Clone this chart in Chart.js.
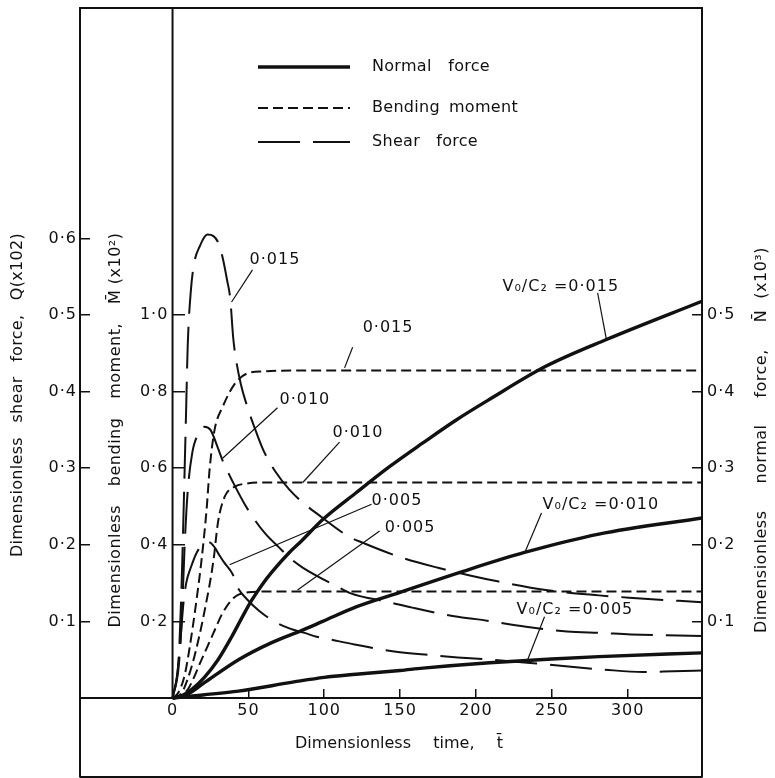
<!DOCTYPE html>
<html>
<head>
<meta charset="utf-8">
<script src="https://cdn.jsdelivr.net/npm/chart.js@4.4.1/dist/chart.umd.min.js"></script>
<style>
  html, body { margin: 0; padding: 0; background: #fff; }
  #wrap { width: 775px; height: 778px; }
</style>
</head>
<body>
<div id="wrap"><canvas id="chart" width="775" height="778"></canvas></div>
<script>
// tick labels
const timeTicks = [0, 50, 100, 150, 200, 250, 300];
const shearTicks = [0.1, 0.2, 0.3, 0.4, 0.5, 0.6];
const momentTicks = [0.2, 0.4, 0.6, 0.8, 1.0];
const normalTicks = [0.1, 0.2, 0.3, 0.4, 0.5];

// normal force N (x10^3), solid
const nT015 = [0, 5, 12.5, 21, 30, 39, 45.5, 52, 58.7, 65.3, 77, 85, 99, 121, 143, 165, 187, 209, 246, 286, 349];
const nV015 = [0, 0.002, 0.011, 0.027, 0.05, 0.08, 0.104, 0.127, 0.147, 0.164, 0.19, 0.205, 0.233, 0.268, 0.302, 0.333, 0.363, 0.39, 0.433, 0.468, 0.518];
const nT010 = [0, 10, 21, 43.5, 65, 85, 99, 121, 150, 191, 232, 281, 349];
const nV010 = [0, 0.005, 0.02, 0.05, 0.072, 0.088, 0.1, 0.119, 0.138, 0.165, 0.19, 0.214, 0.235];
const nT005 = [0, 20, 43.5, 80, 100, 121, 150, 165, 209, 250, 281, 349];
const nV005 = [0, 0.004, 0.009, 0.021, 0.027, 0.031, 0.036, 0.039, 0.046, 0.051, 0.054, 0.059];

// bending moment M (x10^2), short dashes
const mT015 = [0, 4, 8, 11.2, 15.8, 19.1, 22.4, 24.5, 27.7, 33, 41, 49, 60, 80, 349];
const mV015 = [0, 0.015, 0.06, 0.13, 0.256, 0.36, 0.49, 0.6, 0.7, 0.76, 0.82, 0.847, 0.853, 0.855, 0.855];
const mT010 = [0, 6, 10, 14.5, 21, 27, 30, 34.3, 41, 49, 60, 349];
const mV010 = [0, 0.013, 0.05, 0.11, 0.225, 0.36, 0.46, 0.525, 0.552, 0.56, 0.563, 0.563];
const mT005 = [0, 5, 10, 19, 27, 33, 41, 50, 60, 349];
const mV005 = [0, 0.006, 0.022, 0.099, 0.17, 0.222, 0.264, 0.276, 0.278, 0.278];

// shear force Q (x10^2), long dashes
const qT015 = [0, 4, 6, 8, 9, 10, 12, 14, 18, 23, 27, 30, 33, 36, 38, 40, 42, 45, 49, 55, 60, 68, 77, 86, 95, 116, 125, 150, 175, 196, 215, 246, 281, 301, 349];
const qV015 = [0, 0.05, 0.15, 0.3, 0.38, 0.46, 0.53, 0.565, 0.59, 0.605, 0.603, 0.595, 0.575, 0.545, 0.522, 0.47, 0.44, 0.41, 0.382, 0.348, 0.323, 0.295, 0.272, 0.255, 0.241, 0.211, 0.203, 0.184, 0.17, 0.16, 0.152, 0.141, 0.134, 0.131, 0.125];
const qT010 = [0, 4, 6, 8, 10, 13, 17, 21, 25, 30, 33, 36, 39, 47, 54, 61, 70, 79, 86, 108, 117, 143, 158, 188, 200, 233, 260, 283, 302, 349];
const qV010 = [0, 0.04, 0.1, 0.2, 0.27, 0.32, 0.345, 0.354, 0.35, 0.326, 0.31, 0.297, 0.285, 0.255, 0.233, 0.215, 0.197, 0.18, 0.17, 0.146, 0.137, 0.125, 0.118, 0.106, 0.103, 0.093, 0.087, 0.085, 0.083, 0.081];
const qT005 = [0, 3, 5, 7, 9, 12, 16, 20, 24.4, 28, 31, 34, 37.6, 40, 42, 50, 57, 67, 77, 87, 95, 105, 120, 145, 170, 188, 210, 240, 285, 310, 330, 349];
const qV005 = [0, 0.03, 0.07, 0.12, 0.15, 0.17, 0.19, 0.2, 0.203, 0.196, 0.186, 0.177, 0.168, 0.16, 0.148, 0.127, 0.114, 0.1, 0.091, 0.085, 0.08, 0.076, 0.07, 0.061, 0.056, 0.053, 0.05, 0.045, 0.037, 0.034, 0.035, 0.036];

const INK = '#111';
const FONT = '16px "DejaVu Sans"';
const tickFont = { family: 'DejaVu Sans', size: 16 };

const styleN = { borderWidth: 3.4, borderDash: [] };
const styleM = { borderWidth: 2, borderDash: [10, 5] };
const styleQ = { borderWidth: 2, borderDash: [42, 13] };

function pts(ts, vs) {
  return ts.map((t, i) => ({ x: t, y: vs[i] }));
}
function dotted(v) {
  return Number(v).toFixed(1).replace('.', '\u00B7');
}
function fixTicks(list) {
  return s => { s.ticks = list.map(v => ({ value: v })); };
}

function ds(label, ts, vs, axis, style) {
  return {
    label: label, data: pts(ts, vs), yAxisID: axis, xAxisID: 'x',
    borderColor: INK, borderWidth: style.borderWidth, borderDash: style.borderDash,
    pointRadius: 0, fill: false, cubicInterpolationMode: 'monotone'
  };
}

// free text drawn with words spread over a given length
function spread(ctx, words, cx, cy, len, rot, ls) {
  ctx.save();
  ctx.translate(cx, cy);
  ctx.rotate(rot);
  ctx.letterSpacing = (ls || 0) + 'px';
  ctx.font = FONT;
  ctx.fillStyle = INK;
  ctx.textBaseline = 'middle';
  ctx.textAlign = 'left';
  const w = words.map(s => ctx.measureText(s).width);
  const total = w.reduce((a, b) => a + b, 0);
  const gap = words.length > 1 ? (len - total) / (words.length - 1) : 0;
  let x = -len / 2;
  words.forEach((s, i) => { ctx.fillText(s, x, 0); x += w[i] + gap; });
  ctx.restore();
}

// curve labels with leaders, in (time, Q) units
const notes = [
  ['0\u00B7015', 50.8, 0.572, 52.7, 0.559, 38.9, 0.517],
  ['0\u00B7015', 125.3, 0.483, 118.7, 0.458, 113.4, 0.431],
  ['0\u00B7010', 70.5, 0.389, 69.2, 0.379, 33.0, 0.313],
  ['0\u00B7010', 105.5, 0.346, 110.1, 0.334, 85.7, 0.281],
  ['0\u00B7005', 131.2, 0.257, 131.2, 0.253, 37.6, 0.174],
  ['0\u00B7005', 139.8, 0.222, 136.5, 0.218, 82.4, 0.141],
  ['V\u2080/C\u2082 =0\u00B7015', 217.5, 0.537, 280.2, 0.529, 286.1, 0.467],
  ['V\u2080/C\u2082 =0\u00B7010', 243.9, 0.252, 243.2, 0.2415, 232, 0.189],
  ['V\u2080/C\u2082 =0\u00B7005', 226.8, 0.115, 245.2, 0.106, 234, 0.0496]
];

const legendRows = [
  ['Normal', 'force', styleN, 67, 118],
  ['Bending', 'moment', styleM, 108, 146],
  ['Shear', 'force', styleQ, 142, 106]
];

const decor = {
  id: 'decor',
  beforeDraw(chart) {
    chart.ctx.letterSpacing = '1px';
  },
  afterDraw(chart) {
    const ctx = chart.ctx;
    const a = chart.chartArea;
    const sx = chart.scales.x, sq = chart.scales.q;
    ctx.save();
    ctx.letterSpacing = '0px';
    ctx.strokeStyle = INK;
    ctx.setLineDash([]);
    // frame top and bottom
    ctx.lineWidth = 2;
    ctx.beginPath();
    ctx.moveTo(a.left, a.top); ctx.lineTo(a.right, a.top);
    ctx.moveTo(a.left, a.bottom); ctx.lineTo(a.right, a.bottom);
    // t = 0 line up from the time axis
    const x0 = sx.getPixelForValue(0);
    ctx.moveTo(x0, a.top); ctx.lineTo(x0, sq.getPixelForValue(0));
    ctx.stroke();

    // axis titles
    spread(ctx, ['Dimensionless', 'shear', 'force,', 'Q(x102)'], 17.5, 395, 324, -Math.PI / 2, 0.3);
    spread(ctx, ['Dimensionless', 'bending', 'moment,', 'M\u0304 (x10\u00B2)'], 116, 430, 395, -Math.PI / 2, 0.5);
    spread(ctx, ['Dimensionless', 'normal', 'force,', 'N\u0304  (x10\u00B3)'], 762, 440, 386, -Math.PI / 2, 0.5);
    spread(ctx, ['Dimensionless', 'time,', 't\u0304'], 399, 744, 208, 0, 0);

    // legend
    legendRows.forEach(r => {
      ctx.lineWidth = r[2].borderWidth;
      ctx.setLineDash(r[2].borderDash);
      ctx.beginPath();
      ctx.moveTo(258, r[3]); ctx.lineTo(350, r[3]);
      ctx.stroke();
      ctx.setLineDash([]);
      spread(ctx, [r[0], r[1]], 372 + r[4] / 2, r[3], r[4], 0, 0.3);
    });

    // curve labels and leaders
    ctx.lineWidth = 1.2;
    ctx.setLineDash([]);
    ctx.font = FONT;
    ctx.fillStyle = INK;
    ctx.textAlign = 'left';
    ctx.textBaseline = 'middle';
    ctx.letterSpacing = '1px';
    notes.forEach(n => {
      ctx.fillText(n[0], sx.getPixelForValue(n[1]), sq.getPixelForValue(n[2]));
      ctx.beginPath();
      ctx.moveTo(sx.getPixelForValue(n[3]), sq.getPixelForValue(n[4]));
      ctx.lineTo(sx.getPixelForValue(n[5]), sq.getPixelForValue(n[6]));
      ctx.stroke();
    });
    ctx.restore();
  }
};

const inwardGrid = len => ({
  drawOnChartArea: false, drawTicks: true, tickLength: len, color: INK, lineWidth: 1.5
});

new Chart(document.getElementById('chart'), {
  type: 'line',
  data: {
    datasets: [
      ds('N 0.015', nT015, nV015, 'n', styleN),
      ds('N 0.010', nT010, nV010, 'n', styleN),
      ds('N 0.005', nT005, nV005, 'n', styleN),
      ds('M 0.015', mT015, mV015, 'm', styleM),
      ds('M 0.010', mT010, mV010, 'm', styleM),
      ds('M 0.005', mT005, mV005, 'm', styleM),
      ds('Q 0.015', qT015, qV015, 'q', styleQ),
      ds('Q 0.010', qT010, qV010, 'q', styleQ),
      ds('Q 0.005', qT005, qV005, 'q', styleQ)
    ]
  },
  options: {
    responsive: false,
    animation: false,
    layout: { padding: { top: 8, bottom: 1, left: 0, right: 0 } },
    plugins: { legend: { display: false }, tooltip: { enabled: false } },
    scales: {
      x: {
        type: 'linear', axis: 'x', position: { q: 0 }, min: -61, max: 349,
        afterBuildTicks: fixTicks(timeTicks),
        afterFit: s => { s.paddingLeft = 0; s.paddingRight = 0; },
        ticks: { font: tickFont, color: INK, padding: 13, autoSkip: false, maxRotation: 0, callback: v => String(v) },
        grid: inwardGrid(-10),
        border: { display: true, color: INK, width: 2 }
      },
      q: {
        type: 'linear', axis: 'y', position: 'left', min: -0.1031, max: 0.9008,
        afterBuildTicks: fixTicks(shearTicks),
        afterFit: s => { s.width = 80; s.paddingTop = 0; s.paddingBottom = 0; },
        ticks: { font: tickFont, color: INK, padding: 13, autoSkip: false, callback: dotted },
        grid: inwardGrid(-10),
        border: { display: true, color: INK, width: 2 }
      },
      m: {
        type: 'linear', axis: 'y', position: { x: 0 }, min: -0.2062, max: 1.8016,
        afterBuildTicks: fixTicks(momentTicks),
        afterFit: s => { s.paddingTop = 0; s.paddingBottom = 0; },
        ticks: { font: tickFont, color: INK, padding: 0, autoSkip: false, callback: v => dotted(v) + '\u2009' },
        grid: inwardGrid(-12),
        border: { display: false }
      },
      n: {
        type: 'linear', axis: 'y', position: 'right', min: -0.1031, max: 0.9008,
        afterBuildTicks: fixTicks(normalTicks),
        afterFit: s => { s.width = 73; s.paddingTop = 0; s.paddingBottom = 0; },
        ticks: { font: tickFont, color: INK, padding: 15, autoSkip: false, callback: dotted },
        grid: inwardGrid(-10),
        border: { display: true, color: INK, width: 2 }
      }
    }
  },
  plugins: [decor]
});
</script>
</body>
</html>
